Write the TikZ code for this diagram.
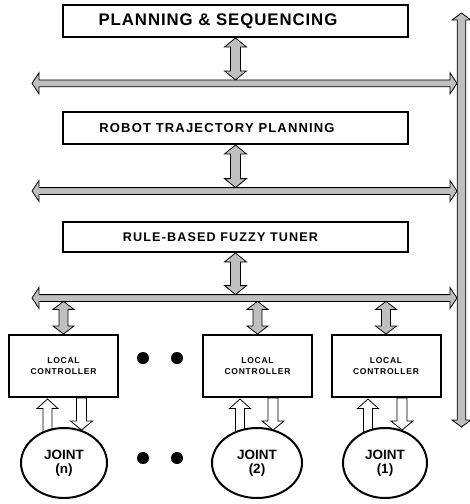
\documentclass[tikz,border=0pt]{standalone}
\usepackage{fontspec}
\setmainfont{Liberation Sans}
\usetikzlibrary{calc,shapes.geometric}
\definecolor{arrowgray}{HTML}{BFBFBF}
\newfontfamily\fontA[LetterSpace=5.5]{Liberation Sans}
\newfontfamily\fontB[LetterSpace=9]{Liberation Sans}
\newfontfamily\fontC[LetterSpace=9]{Liberation Sans}
% vertical double block arrow: #1 top, #2 bottom, #3 half head width, #4 half shaft width, #5 head length
\newcommand\VDA[6][garrow]{%
  \draw[#1] let \p1=#2, \p2=#3 in
    (\x1,\y1) -- (\x1+#4,\y1-#6) -- (\x1+#5,\y1-#6) -- (\x1+#5,\y2+#6) -- (\x1+#4,\y2+#6)
    -- (\x1,\y2) -- (\x1-#4,\y2+#6) -- (\x1-#5,\y2+#6) -- (\x1-#5,\y1-#6) -- (\x1-#4,\y1-#6) -- cycle;}
% horizontal double block arrow: #1 left, #2 right, #3 half head height, #4 half shaft height, #5 head length
\newcommand\HDA[5]{%
  \draw[garrow] let \p1=#1, \p2=#2 in
    (\x1,\y1) -- (\x1+#5,\y1+#3) -- (\x1+#5,\y1+#4) -- (\x2-#5,\y1+#4) -- (\x2-#5,\y1+#3)
    -- (\x2,\y1) -- (\x2-#5,\y1-#3) -- (\x2-#5,\y1-#4) -- (\x1+#5,\y1-#4) -- (\x1+#5,\y1-#3) -- cycle;}
% single up arrow: #1 tip (top), #2 tail (bottom)
\newcommand\UPA[2]{%
  \draw[warrow] let \p1=#1, \p2=#2 in
    (\x1,\y1) -- (\x1+10.5pt,\y1-9.5pt) -- (\x1+4.5pt,\y1-9.5pt) -- (\x1+4.5pt,\y2)
    -- (\x1-4.5pt,\y2) -- (\x1-4.5pt,\y1-9.5pt) -- (\x1-10.5pt,\y1-9.5pt) -- cycle;}
% single down arrow: #1 tail (top), #2 tip (bottom)
\newcommand\DNA[2]{%
  \draw[warrow] let \p1=#1, \p2=#2 in
    (\x2,\y2) -- (\x2+11pt,\y2+9pt) -- (\x2+5pt,\y2+9pt) -- (\x2+5pt,\y1)
    -- (\x2-5pt,\y1) -- (\x2-5pt,\y2+9pt) -- (\x2-11pt,\y2+9pt) -- cycle;}
\begin{document}
\begin{tikzpicture}[x=1pt,y=-1pt,
  garrow/.style={draw=black,fill=arrowgray,line width=0.8pt,line join=miter},
  warrow/.style={draw=black,fill=white,line width=0.8pt,line join=miter},
  bigbox/.style={draw=black,line width=2pt,rectangle,minimum width=345pt,inner sep=0pt},
  ctrlbox/.style={draw=black,line width=2pt,rectangle,minimum width=109pt,minimum height=62pt,inner sep=0pt,
    align=center,font=\fontC\bfseries\fontsize{8.5}{11}\selectfont},
  joint/.style={draw=black,line width=2pt,ellipse,fill=white,minimum height=70pt,inner sep=0pt,
    align=center,font=\bfseries\fontsize{13.5}{14}\selectfont},
  dot/.style={circle,fill=black,minimum size=12pt,inner sep=0pt}]
\useasboundingbox (0,0) rectangle (470,504);

% top level boxes
\node[bigbox,minimum height=32pt,font=\fontA\bfseries\fontsize{16.8}{18}\selectfont] (p1) at (235.5,21)
  {\hspace*{-35pt}PLANNING \& SEQUENCING};
\node[bigbox,minimum height=32pt,font=\fontB\bfseries\fontsize{13}{15}\selectfont] (p2) at (235.5,128)
  {\hspace*{-37pt}ROBOT TRAJECTORY PLANNING};
\node[bigbox,minimum height=30pt,font=\fontB\bfseries\fontsize{12.6}{15}\selectfont] (p3) at (235.5,237)
  {\hspace*{-30pt}RULE-BASED FUZZY TUNER};

% bus coordinates
\coordinate (b1L) at (32,83.3);  \coordinate (b1R) at (457,83.3);
\coordinate (b2L) at (32,191);   \coordinate (b2R) at (457,191);
\coordinate (b3L) at (32,298);   \coordinate (b3R) at (457,298);
\coordinate (vtop) at (461.5,13); \coordinate (vbot) at (461.5,427);

% local controllers
\node[ctrlbox] (cn) at (63.5,366) {LOCAL\\CONTROLLER};
\node[ctrlbox] (c2) at (257.5,366) {LOCAL\\CONTROLLER};
\node[ctrlbox] (c1) at (386,366) {LOCAL\\CONTROLLER};

% buses
\HDA{(b1L)}{(b1R)}{10.5pt}{3.4pt}{7pt}
\HDA{(b2L)}{(b2R)}{10.5pt}{3.4pt}{7pt}
\HDA{(b3L)}{(b3R)}{10.5pt}{3.4pt}{7pt}

% right vertical double arrow
\VDA{(vtop)}{(vbot)}{9.5pt}{4.3pt}{7pt}

% box to bus arrows
\VDA{(p1.south)}{($(p1.south |- b1L)+(0,-3.4)$)}{11pt}{5pt}{9pt}
\VDA{(p2.south)}{($(p2.south |- b2L)+(0,-3.4)$)}{11pt}{5pt}{9pt}
\VDA{(p3.south)}{($(p3.south |- b3L)+(0,-3.4)$)}{11pt}{5pt}{9pt}

% bus to controller arrows
\VDA{($(cn.north |- b3L)+(0,3.4)$)}{(cn.north)}{10.5pt}{4.5pt}{8pt}
\VDA{($(c2.north |- b3L)+(0,3.4)$)}{(c2.north)}{10.5pt}{4.5pt}{8pt}
\VDA{($(c1.north |- b3L)+(0,3.4)$)}{(c1.north)}{10.5pt}{4.5pt}{8pt}

% joints (positions)
\coordinate (jnc) at (64,463);
\coordinate (j2c) at (257,463);
\coordinate (j1c) at (385,463);

% controller <-> joint arrows
\UPA{($(cn.south)+(-16,1)$)}{($(jnc)+(-16,-28)$)}
\DNA{($(cn.south)+(17.5,0)$)}{($(jnc)+(17.5,-33)$)}
\UPA{($(c2.south)+(-17.5,1)$)}{($(j2c)+(-17.5,-28)$)}
\DNA{($(c2.south)+(16,0)$)}{($(j2c)+(16,-33)$)}
\UPA{($(c1.south)+(-18,1)$)}{($(j1c)+(-18,-28)$)}
\DNA{($(c1.south)+(17,0)$)}{($(j1c)+(17,-33)$)}

\node[joint,minimum width=86pt] (jn) at (jnc) {JOINT\\(n)};
\node[joint,minimum width=90pt] (j2) at (j2c) {JOINT\\(2)};
\node[joint,minimum width=84pt] (j1) at (j1c) {JOINT\\(1)};

% ellipsis dots
\node[dot] (d1) at (143,358) {};
\node[dot] (d2) at (177,358) {};
\node[dot] (d3) at (143,458) {};
\node[dot] (d4) at (177,458) {};
\end{tikzpicture}
\end{document}
